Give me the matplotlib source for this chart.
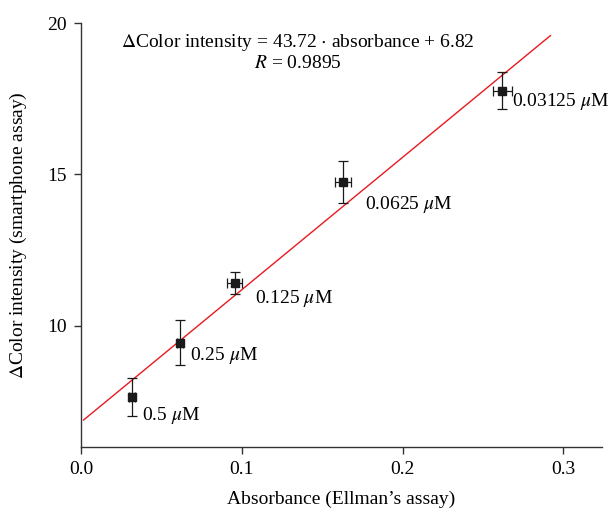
import numpy as np
import matplotlib
matplotlib.use('Agg')
import matplotlib.pyplot as plt

plt.rcParams['font.family'] = ['Liberation Serif', 'DejaVu Serif']
plt.rcParams['mathtext.fontset'] = 'stix'

# Data
concentrations = ['0.5', '0.25', '0.125', '0.0625', '0.03125']
absorbance = np.array([0.0318, 0.0617, 0.0955, 0.163, 0.262])
absorbance_err = np.array([0.002, 0.002, 0.0048, 0.005, 0.006])
color_intensity = np.array([7.65, 9.45, 11.41, 14.75, 17.77])
color_intensity_err = np.array([0.62, 0.73, 0.37, 0.70, 0.60])

slope = 43.72
intercept = 6.82
r_value = 0.9895
fit_range = (0.0016, 0.292)

# label offsets in pixels (right, down)
label_offsets = [(10, -18), (10, -13), (20, -15), (22, -22), (10, -11)]

FS = 14

fig = plt.figure(figsize=(6.15, 5.12), dpi=100)
ax = fig.add_axes([0.1317, 0.127, 0.847, 0.828])

xfit = np.linspace(fit_range[0], fit_range[1], 50)
ax.plot(xfit, slope * xfit + intercept, color='#e8191e', linewidth=1.0, zorder=2)

ax.errorbar(absorbance, color_intensity, xerr=absorbance_err, yerr=color_intensity_err,
            fmt='s', color='#1a1a1a', markersize=6, elinewidth=0.9, capsize=3.5,
            capthick=0.9, zorder=3)

for x, y, c, off in zip(absorbance, color_intensity, concentrations, label_offsets):
    ax.annotate(f'{c} $\\mu$M', xy=(x, y), xytext=(off[0] * 0.72, off[1] * 0.72),
                textcoords='offset points', ha='left', va='center', fontsize=FS)

ax.text(0.135, 19.35, f'$\\Delta$Color intensity = {slope:.2f} $\\cdot$ absorbance + {intercept:.2f}',
        ha='center', va='center', fontsize=FS)
ax.text(0.135, 18.68, f'$R$ = {r_value:.4f}', ha='center', va='center', fontsize=FS)

ax.set_xlim(0, 0.324)
ax.set_ylim(6, 20)
ax.set_xticks([0.0, 0.1, 0.2, 0.3])
ax.set_xticklabels(['0.0', '0.1', '0.2', '0.3'])
ax.set_yticks([10, 15, 20])

for side in ['top', 'right']:
    ax.spines[side].set_visible(False)
for side in ['left', 'bottom']:
    ax.spines[side].set_color('#333333')
    ax.spines[side].set_linewidth(1.0)
ax.tick_params(direction='out', length=5, width=1.0, color='#333333', labelsize=FS, pad=5)

ax.set_xlabel("Absorbance (Ellman’s assay)", fontsize=FS, labelpad=9)
ax.set_ylabel('$\\Delta$Color intensity (smartphone assay)', fontsize=FS, labelpad=13)

fig.savefig('out.png', dpi=100)
